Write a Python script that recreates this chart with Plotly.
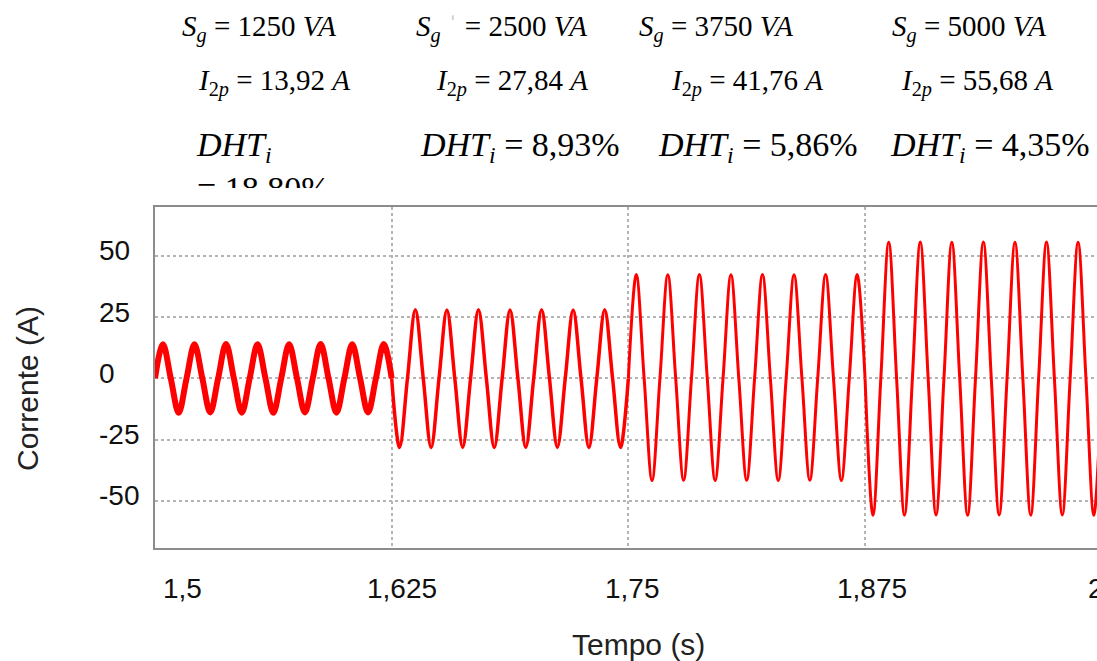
import plotly.graph_objects as go

# ---------------- data ----------------
t_s = [
    1.5, 1.50417, 1.50833, 1.5125, 1.51667, 1.52083, 1.525, 1.52917, 1.53333, 1.5375,
    1.54167, 1.54583, 1.55, 1.55417, 1.55833, 1.5625, 1.56667, 1.57083, 1.575, 1.57917,
    1.58333, 1.5875, 1.59167, 1.59583, 1.6, 1.60417, 1.60833, 1.6125, 1.61667, 1.62083,
    1.625, 1.62917, 1.63333, 1.6375, 1.64167, 1.64583, 1.65, 1.65417, 1.65833, 1.6625,
    1.66667, 1.67083, 1.675, 1.67917, 1.68333, 1.6875, 1.69167, 1.69583, 1.7, 1.70417,
    1.70833, 1.7125, 1.71667, 1.72083, 1.725, 1.72917, 1.73333, 1.7375, 1.74167, 1.74583,
    1.75, 1.75417, 1.75833, 1.7625, 1.76667, 1.77083, 1.775, 1.77917, 1.78333, 1.7875,
    1.79167, 1.79583, 1.8, 1.80417, 1.80833, 1.8125, 1.81667, 1.82083, 1.825, 1.82917,
    1.83333, 1.8375, 1.84167, 1.84583, 1.85, 1.85417, 1.85833, 1.8625, 1.86667, 1.87083,
    1.875, 1.87917, 1.88333, 1.8875, 1.89167, 1.89583, 1.9, 1.90417, 1.90833, 1.9125,
    1.91667, 1.92083, 1.925, 1.92917, 1.93333, 1.9375, 1.94167, 1.94583, 1.95, 1.95417,
    1.95833, 1.9625, 1.96667, 1.97083, 1.975, 1.97917, 1.98333, 1.9875, 1.99167, 1.99583,
    2.0,
]

current_A = [
    # 1250 VA
    0, 13.9, 0, -14.0, 0, 13.9, 0, -13.9, 0, 14.0, 0, -14.0, 0, 13.9, 0, -14.0,
    0, 13.9, 0, -13.9, 0, 14.0, 0, -14.0, 0, 13.9, 0, -13.9, 0, 14.0,
    # 2500 VA
    0, -28.2, 0, 28.0, 0, -28.3, 0, 27.9, 0, -28.2, 0, 28.0, 0, -28.3, 0, 27.9,
    0, -28.2, 0, 28.0, 0, -28.2, 0, 27.9, 0, -28.3, 0, 28.0, 0, -28.2,
    # 3750 VA
    0, 42.4, 0, -41.7, 0, 42.3, 0, -41.6, 0, 42.4, 0, -41.7, 0, 42.3, 0, -41.6,
    0, 42.4, 0, -41.7, 0, 42.3, 0, -41.6, 0, 42.4, 0, -41.7, 0, 42.4,
    # 5000 VA
    0, -55.9, 0, 55.6, 0, -55.9, 0, 55.7, 0, -55.8, 0, 55.6, 0, -55.9, 0, 55.7,
    0, -55.8, 0, 55.6, 0, -55.9, 0, 55.7, 0, -55.8, 0, 55.6, 0, -55.9,
    0,
]

segment_start_s = [1.5, 1.625, 1.75, 1.875, 2.0]

x_ticks = [1.5, 1.625, 1.75, 1.875, 2.0]
x_tick_labels = ["1,5", "1,625", "1,75", "1,875", "2"]
y_ticks = [50, 25, 0, -25, -50]
y_tick_labels = ["50", "25", "0", "-25", "-50"]

power_labels = ["1250", "2500", "3750", "5000"]
current_labels = ["13,92", "27,84", "41,76", "55,68"]
thd_labels = ["18,80", "8,93", "5,86", "4,35"]

# ---------------- layout geometry / styles ----------------
W, H = 1097, 661
ML, MR, MT, MB = 155, 0, 207, 113
PW = W - ML - MR
PH = H - MT - MB
X_RANGE = [1.5, 1.9975]
Y_RANGE = [-69.3, 70.0]

seg_widths = [6, 3.5, 3, 3]
x_label_px = [182, 402, 632, 872, 1096]

AX_FONT = "Liberation Sans, Arial, sans-serif"
MATH_FONT = "Liberation Serif, Times New Roman, serif"


def px(xpix):
    return (xpix - ML) / PW


def py(ypix):
    return (H - MB - ypix) / PH


fig = go.Figure()

for s in range(4):
    idx = [k for k, t in enumerate(t_s)
           if segment_start_s[s] - 1e-9 <= t <= segment_start_s[s + 1] + 1e-9]
    fig.add_trace(go.Scatter(
        x=[t_s[k] for k in idx],
        y=[current_A[k] for k in idx],
        mode="lines",
        line=dict(color="#ff0000", width=seg_widths[s], shape="spline", smoothing=1.0),
        showlegend=False,
        hoverinfo="skip",
    ))

annotations = []

# y tick labels (left aligned)
for v, lab in zip(y_ticks, y_tick_labels):
    annotations.append(dict(
        x=px(97), xref="paper", y=v, yref="y", text=lab, showarrow=False,
        xanchor="left", yanchor="middle", yshift=5,
        font=dict(family=AX_FONT, size=28, color="#111111"),
    ))

# x tick labels
for lab, xp in zip(x_tick_labels, x_label_px):
    annotations.append(dict(
        x=px(xp), xref="paper", y=py(588), yref="paper", text=lab, showarrow=False,
        xanchor="center", yanchor="middle",
        font=dict(family=AX_FONT, size=28, color="#111111"),
    ))

# axis titles
annotations.append(dict(
    x=px(638), xref="paper", y=py(644), yref="paper", text="Tempo (s)",
    showarrow=False, xanchor="center", yanchor="middle",
    font=dict(family=AX_FONT, size=30, color="#222222"),
))
annotations.append(dict(
    x=px(27), xref="paper", y=py(389), yref="paper", text="Corrente (A)",
    showarrow=False, xanchor="center", yanchor="middle", textangle=-90,
    font=dict(family=AX_FONT, size=30, color="#222222"),
))

# header texts
row1_x = [259, 501, 716, 969]
row2_x = [274, 512, 747, 977]
row3_x = [520, 758, 990]
for i, p in enumerate(power_labels):
    mark = " <span style='color:#cccccc'>ˈ</span>" if i == 1 else ""
    annotations.append(dict(
        x=px(row1_x[i]), xref="paper", y=py(28), yref="paper",
        text=f"<i>S</i><sub><i>g</i></sub>{mark} = {p} <i>VA</i>",
        showarrow=False, xanchor="center", yanchor="middle",
        font=dict(family=MATH_FONT, size=29, color="#000000"),
    ))
for i, c in enumerate(current_labels):
    annotations.append(dict(
        x=px(row2_x[i]), xref="paper", y=py(82), yref="paper",
        text=f"<i>I</i><sub>2<i>p</i></sub> = {c} <i>A</i>",
        showarrow=False, xanchor="center", yanchor="middle",
        font=dict(family=MATH_FONT, size=29, color="#000000"),
    ))
for i, d in enumerate(thd_labels[1:]):
    annotations.append(dict(
        x=px(row3_x[i]), xref="paper", y=py(147), yref="paper",
        text=f"<i>DHT</i><sub><i>i</i></sub> = {d}%",
        showarrow=False, xanchor="center", yanchor="middle",
        font=dict(family=MATH_FONT, size=34, color="#000000"),
    ))
# first THD label wraps and is clipped by its box
annotations.append(dict(
    x=px(194), xref="paper", y=py(124), yref="paper",
    text=f"<i>DHT</i><sub><i>i</i></sub><br>= {thd_labels[0]}%",
    showarrow=False, xanchor="left", yanchor="top", align="left", valign="top",
    height=62, width=160,
    font=dict(family=MATH_FONT, size=34, color="#000000"),
))

fig.update_layout(
    width=W, height=H,
    margin=dict(l=ML, r=MR, t=MT, b=MB, pad=0),
    paper_bgcolor="white", plot_bgcolor="white",
    annotations=annotations,
    xaxis=dict(
        range=X_RANGE, tickvals=x_ticks, showticklabels=False, ticks="",
        showgrid=True, gridcolor="#b4b4b4", griddash="dot", gridwidth=1.5,
        zeroline=False, showline=True, linecolor="#8c8c8c", linewidth=2, mirror=True,
    ),
    yaxis=dict(
        range=Y_RANGE, tickvals=y_ticks, showticklabels=False, ticks="",
        showgrid=True, gridcolor="#b4b4b4", griddash="dot", gridwidth=1.5,
        zeroline=False, showline=True, linecolor="#8c8c8c", linewidth=2, mirror=False,
    ),
)

fig.write_html("out.html")
